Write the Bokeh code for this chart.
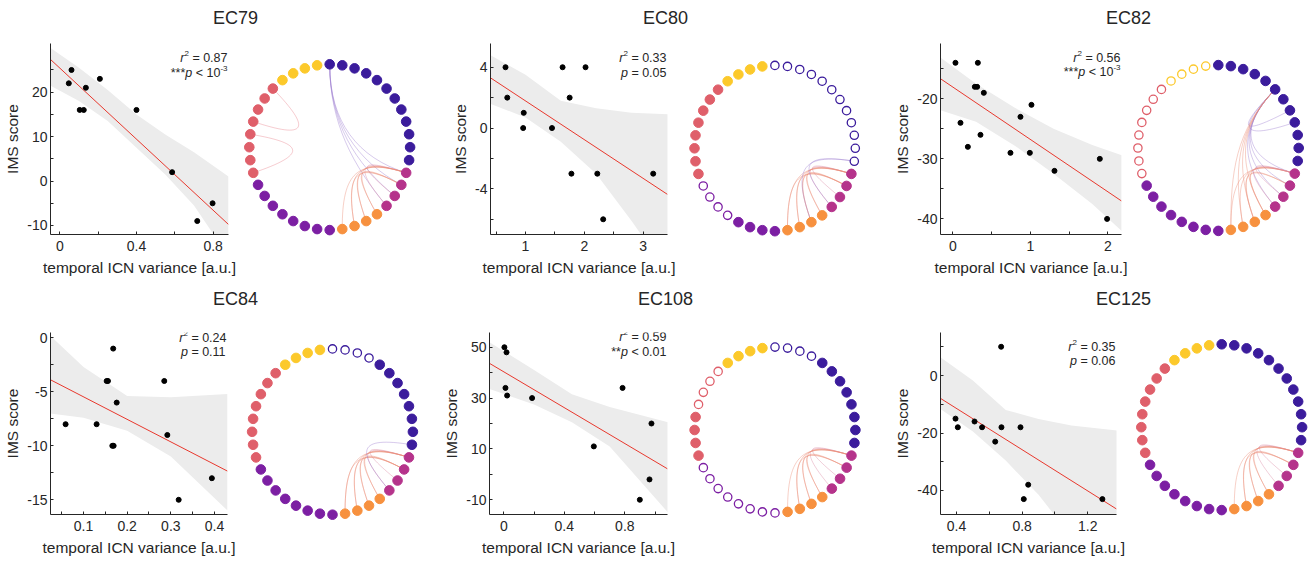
import numpy as np
from bokeh.plotting import figure
from bokeh.layouts import column, row
from bokeh.models import Range1d, FixedTicker
from bokeh.core.properties import value
from bokeh.embed import file_html
from bokeh.resources import INLINE

# ------------------------------------------------------------------ data
titles = ["EC79", "EC80", "EC82", "EC84", "EC108", "EC125"]
x_label = "temporal ICN variance [a.u.]"
y_label = "IMS score"

ec79_x = [0.047, 0.061, 0.104, 0.125, 0.136, 0.209, 0.400, 0.586, 0.717, 0.797]
ec79_y = [22, 25, 16, 16, 21, 23, 16, 2, -9, -5]
ec80_x = [0.66, 0.69, 0.97, 0.96, 1.45, 1.63, 1.75, 1.78, 2.02, 2.22, 2.32, 3.17]
ec80_y = [4, 2, 1, 0, 0, 4, 2, -3, 4, -3, -6, -3]
ec82_x = [0.034, 0.099, 0.194, 0.284, 0.314, 0.323, 0.357, 0.400, 0.744, 0.873,
          0.994, 1.015, 1.312, 1.897, 1.991]
ec82_y = [-14, -24, -28, -18, -18, -14, -26, -19, -29, -23, -29, -21, -32, -30, -40]
ec84_x = [0.059, 0.130, 0.153, 0.156, 0.168, 0.166, 0.169, 0.176, 0.285, 0.292, 0.318, 0.394]
ec84_y = [-8, -8, -4, -4, -1, -10, -10, -6, -4, -9, -15, -13]
ec108_x = [0.004, 0.018, 0.011, 0.022, 0.187, 0.595, 0.785, 0.899, 0.963, 0.976]
ec108_y = [50, 48, 34, 31, 30, 11, 34, -10, -2, 20]
ec125_x = [0.394, 0.408, 0.510, 0.556, 0.636, 0.672, 0.674, 0.790, 0.810, 0.837, 1.289]
ec125_y = [-15, -18, -16, -18, -23, 10, -18, -18, -43, -38, -43]

# confidence bands
ec79_band_x = [-0.05, 0.1, 0.25, 0.4, 0.55, 0.7, 0.88]
ec79_band_lo = [21.5, 18.0, 13.5, 7.5, 1.5, -5.5, -17.0]
ec79_band_hi = [30.0, 25.5, 20.5, 15.0, 10.5, 6.5, 1.0]
ec80_band_x = [0.4, 1.0, 1.6, 2.2, 2.8, 3.42]
ec80_band_lo = [1.6, 0.7, -0.9, -3.0, -6.1, -9.5]
ec80_band_hi = [4.8, 3.5, 1.8, 1.3, 1.0, 0.9]
ec82_band_x = [-0.16, 0.3, 0.8, 1.3, 1.8, 2.18]
ec82_band_lo = [-21.9, -23.8, -27.8, -32.5, -37.5, -42.0]
ec82_band_hi = [-13.1, -17.5, -21.5, -25.0, -27.7, -29.4]
ec84_band_x = [0.024, 0.1, 0.2, 0.3, 0.43]
ec84_band_lo = [-7.0, -7.4, -8.6, -11.0, -16.0]
ec84_band_hi = [0.2, -2.7, -5.4, -5.5, -5.2]
ec108_band_x = [-0.095, 0.2, 0.45, 0.7, 1.085]
ec108_band_lo = [33.6, 27.5, 20.5, 11.0, -15.0]
ec108_band_hi = [52.0, 41.0, 31.5, 26.5, 20.5]
ec125_band_x = [0.30, 0.5, 0.7, 0.9, 1.1, 1.38]
ec125_band_lo = [-11.6, -19.5, -29.6, -41.5, -56.0, -75.0]
ec125_band_hi = [6.4, -1.7, -12.0, -15.1, -17.4, -19.1]

# statistics: r^2 value, significance stars, p relation, p value (with exponent if any)
r2_values = ["0.87", "0.33", "0.56", "0.24", "0.59", "0.35"]
p_stars = ["***", "", "***", "", "**", ""]
p_rel = ["<", "=", "<", "=", "<", "="]
p_values = ["10", "0.05", "10", "0.11", "0.01", "0.06"]
p_exponents = ["-3", "", "-3", "", "", ""]

# ticks
x_ticks = [[0, 0.4, 0.8], [1, 2, 3], [0, 1, 2], [0.1, 0.2, 0.3, 0.4], [0, 0.4, 0.8], [0.4, 0.8, 1.2]]
x_tick_labels = [["0", "0.4", "0.8"], ["1", "2", "3"], ["0", "1", "2"],
                 ["0.1", "0.2", "0.3", "0.4"], ["0", "0.4", "0.8"], ["0.4", "0.8", "1.2"]]
x_minor = [[0.2, 0.6], [0.5, 1.5, 2.5], [0.5, 1.5], [0.05, 0.15, 0.25, 0.35], [0.2, 0.6, 1.0], [0.6, 1.0]]
y_ticks = [[-10, 0, 10, 20], [-4, 0, 4], [-40, -30, -20], [-15, -10, -5, 0], [-10, 10, 30, 50], [-40, -20, 0]]
y_tick_labels = [["-10", "0", "10", "20"], ["-4", "0", "4"], ["-40", "-30", "-20"],
                 ["-15", "-10", "-5", "0"], ["-10", "10", "30", "50"], ["-40", "-20", "0"]]
y_minor = [[-5, 5, 15, 25], [-6, -2, 2], [-35, -25, -15], [-12.5, -7.5, -2.5], [0, 20, 40], [-30, -10, 10]]

# circular graph: 40 nodes in 6 groups (clockwise from top)
group_sizes = [12, 4, 4, 8, 8, 4]
group_colors = ["#3b1c9c", "#b5338b", "#f7913f", "#7c1fa3", "#df5f6a", "#fcc92b"]
edge_colors = ["#9b7bd0", "#d9849f", "#eb8a72", "#a070c8", "#e8808a", "#f0c060"]
open_nodes = [
    [],
    list(range(0, 12)) + list(range(24, 28)),
    list(range(28, 40)),
    [0, 1, 2, 3],
    [0, 1, 2, 3] + list(range(20, 28)) + list(range(32, 36)),
    [],
]
ec79_edges = [(35, 32), (31, 28), (12, 0), (13, 0), (14, 0), (15, 0), (12, 14), (12, 15),
              (12, 16), (12, 17), (12, 18), (12, 19), (13, 16), (13, 17), (13, 18)]
ec80_edges = [(12, 14), (12, 15), (12, 16), (12, 17), (12, 18), (12, 19), (13, 16), (13, 17),
              (13, 18), (13, 19), (15, 11), (17, 11)]
ec82_edges = [(7, 5), (8, 5), (12, 5), (13, 5), (14, 5), (15, 5), (5, 16), (5, 17), (5, 18),
              (5, 19), (12, 16), (12, 17), (12, 18), (12, 19), (13, 16), (13, 17), (12, 14), (12, 15)]
ec84_edges = [(12, 14), (12, 15), (12, 16), (12, 17), (12, 18), (12, 19), (13, 16), (13, 17),
              (13, 18), (13, 19), (15, 11)]
ec108_edges = [(12, 14), (12, 15), (12, 16), (12, 17), (12, 18), (12, 19), (13, 16), (13, 17), (13, 18)]
ec125_edges = [(12, 14), (12, 15), (12, 16), (12, 17), (12, 18), (12, 19), (13, 16), (13, 17), (13, 18)]

scatter_x = [ec79_x, ec80_x, ec82_x, ec84_x, ec108_x, ec125_x]
scatter_y = [ec79_y, ec80_y, ec82_y, ec84_y, ec108_y, ec125_y]
band_x = [ec79_band_x, ec80_band_x, ec82_band_x, ec84_band_x, ec108_band_x, ec125_band_x]
band_lo = [ec79_band_lo, ec80_band_lo, ec82_band_lo, ec84_band_lo, ec108_band_lo, ec125_band_lo]
band_hi = [ec79_band_hi, ec80_band_hi, ec82_band_hi, ec84_band_hi, ec108_band_hi, ec125_band_hi]
edges = [ec79_edges, ec80_edges, ec82_edges, ec84_edges, ec108_edges, ec125_edges]

# ------------------------------------------------------------------ layout / style
FONT = "Liberation Sans"
TXT = "#262626"
W_TOTAL = 1309
ROW_TOP = [33, 322]
ROW_H = [249, 241]
FRAME_H = [191, 182]
TITLE_H = [33, 40]
TITLE_CY = [17, 16]
title_cx = [235, 665, 1128, 235, 665, 1123]

scatter_frame_w = [178, 177, 181, 177, 178, 176]
scatter_right = [14, 15, 9, 15, 15, 12]
circle_w = [198, 208, 179, 197, 208, 181]
x_ranges = [(-0.0485, 0.880), (0.405, 3.413), (-0.159, 2.177),
            (0.0244, 0.4298), (-0.0945, 1.082), (0.3026, 1.375)]
y_ranges = [(-12.03, 30.96), (-7.0, 5.56), (-42.6, -10.78),
            (-16.36, 0.49), (-15.8, 55.8), (-48.35, 14.96)]
stat_dy = [(14, 29), (14, 29), (14, 28), (5, 19), (4, 19), (14, 28)]
circle_c = [(329.2, 146.7), (774.4, 147.8), (1217.8, 147.5),
            (332.0, 431.3), (774.5, 429.5), (1221.2, 426.7)]
RX, RY = 80.4, 82.9
HUB = np.array([0.15, -0.2])
HUB_LIFT = np.array([0.0, 0.1])
STAT_FS = 12.5
SUP_FS = 8.0
# Arial / Liberation Sans advance widths (em)
ADV = {"0": .556, "1": .556, "2": .556, "3": .556, "4": .556, "5": .556, "6": .556,
       "7": .556, "8": .556, "9": .556, " ": .278, ".": .278, "=": .584, "<": .584,
       "*": .389, "-": .333, "r": .333, "p": .556}


def tw(s, fs):
    return sum(ADV.get(ch, 0.55) for ch in s) * fs


def node_colors():
    cols = []
    for c, n in zip(group_colors, group_sizes):
        cols += [c] * n
    return cols


def node_group():
    g = []
    for k, n in enumerate(group_sizes):
        g += [k] * n
    return g


def make_title_strip(r):
    h = TITLE_H[r]
    p = figure(width=W_TOTAL, height=h, x_range=Range1d(0, W_TOTAL), y_range=Range1d(0, h),
               output_backend="svg", toolbar_location=None, min_border=0,
               x_axis_type=None, y_axis_type=None, outline_line_color=None)
    p.grid.visible = False
    p.text(x=title_cx[3 * r:3 * r + 3], y=[h - TITLE_CY[r]] * 3, text=titles[3 * r:3 * r + 3],
           text_font=value(FONT), text_font_size="18px", text_color=TXT,
           text_align="center", text_baseline="middle")
    return p


def style_axis(ax):
    ax.axis_line_color = TXT
    ax.axis_line_width = 1
    ax.major_tick_line_color = TXT
    ax.minor_tick_line_color = TXT
    ax.major_tick_in = 3
    ax.major_tick_out = 0
    ax.minor_tick_in = 3
    ax.minor_tick_out = 0
    ax.major_label_text_font = FONT
    ax.major_label_text_font_size = "14px"
    ax.major_label_text_color = TXT
    ax.axis_label_text_font = FONT
    ax.axis_label_text_font_size = "15.5px"
    ax.axis_label_text_font_style = "normal"
    ax.axis_label_text_color = TXT


def draw_rich(p, x, y, segs):
    """segs: list of (text, font_size, style, raise_px); right-aligned at x."""
    total = sum(tw(s, fs) for s, fs, st, up in segs)
    off = -total
    for s, fs, st, up in segs:
        core = s.lstrip(" ")
        lead = tw(s[:len(s) - len(core)], fs)
        if core:
            p.text(x=[x], y=[y], text=[core], x_offset=off + lead, y_offset=-up,
                   text_font=value(FONT), text_font_size=f"{fs}px", text_font_style=st,
                   text_color=TXT, text_align="left", text_baseline="middle")
        off += tw(s, fs)


def make_scatter(i):
    r = i // 3
    x0, x1 = x_ranges[i]
    y0, y1 = y_ranges[i]
    fw = scatter_frame_w[i]
    w = 50 + fw + scatter_right[i]
    fh = FRAME_H[r]
    p = figure(width=w, height=ROW_H[r], x_range=Range1d(x0, x1), y_range=Range1d(y0, y1),
               output_backend="svg", toolbar_location=None,
               min_border_left=50, min_border_right=scatter_right[i], min_border_top=10,
               min_border_bottom=ROW_H[r] - 10 - fh)
    p.outline_line_color = None
    p.grid.visible = False
    p.varea(x=band_x[i], y1=band_lo[i], y2=band_hi[i], fill_color="#ececec")
    k, b = np.polyfit(scatter_x[i], scatter_y[i], 1)
    p.line(x=[x0, x1], y=[k * x0 + b, k * x1 + b], line_color="#e8382d", line_width=1)
    p.scatter(x=scatter_x[i], y=scatter_y[i], size=5, color="black")

    tx = x1 - 1.0 * (x1 - x0) / fw
    ty1 = y1 - stat_dy[i][0] * (y1 - y0) / fh
    ty2 = y1 - stat_dy[i][1] * (y1 - y0) / fh
    draw_rich(p, tx, ty1, [("r", STAT_FS, "italic", 0), ("2", SUP_FS, "normal", 4),
                           (" = " + r2_values[i], STAT_FS, "normal", 0)])
    draw_rich(p, tx, ty2, [(p_stars[i], STAT_FS, "normal", 0), ("p", STAT_FS, "italic", 0),
                           (" " + p_rel[i] + " " + p_values[i], STAT_FS, "normal", 0),
                           (p_exponents[i], SUP_FS, "normal", 4)])

    p.xaxis.ticker = FixedTicker(ticks=x_ticks[i], minor_ticks=x_minor[i])
    p.yaxis.ticker = FixedTicker(ticks=y_ticks[i], minor_ticks=y_minor[i])
    p.xaxis.major_label_overrides = {float(t): s for t, s in zip(x_ticks[i], x_tick_labels[i])}
    p.yaxis.major_label_overrides = {float(t): s for t, s in zip(y_ticks[i], y_tick_labels[i])}
    style_axis(p.xaxis[0])
    style_axis(p.yaxis[0])
    p.xaxis.axis_label = x_label
    p.yaxis.axis_label = y_label
    p.xaxis.major_label_standoff = 6
    p.xaxis.axis_label_standoff = 5
    p.yaxis.major_label_standoff = 3
    p.yaxis.axis_label_standoff = 3
    return p, w


def make_circle(i, left):
    r = i // 3
    w = circle_w[i]
    h = ROW_H[r]
    top = ROW_TOP[r]
    cx, cy = circle_c[i]
    xr = ((left - cx) / RX, (left + w - cx) / RX)
    yr = ((cy - (top + h)) / RY, (cy - top) / RY)
    p = figure(width=w, height=h, x_range=Range1d(*xr), y_range=Range1d(*yr),
               output_backend="svg", toolbar_location=None, min_border=0,
               x_axis_type=None, y_axis_type=None, outline_line_color=None)
    p.grid.visible = False
    cols = node_colors()
    grp = node_group()
    n = len(cols)
    ang = np.deg2rad(90 - 360.0 / n * np.arange(n))
    nx, ny = np.cos(ang), np.sin(ang)

    def ctrl(k):
        pt = np.array([nx[k], ny[k]])
        if grp[k] in (1, 2):          # magenta / orange nodes are bundled towards a hub
            return 0.25 * pt + 0.75 * HUB + HUB_LIFT
        return 0.3 * pt

    e = edges[i]
    c0 = [ctrl(a) for a, b in e]
    c1 = [ctrl(b) for a, b in e]
    p.bezier(x0=[nx[a] for a, b in e], y0=[ny[a] for a, b in e],
             x1=[nx[b] for a, b in e], y1=[ny[b] for a, b in e],
             cx0=[c[0] for c in c0], cy0=[c[1] for c in c0],
             cx1=[c[0] for c in c1], cy1=[c[1] for c in c1],
             line_color=[edge_colors[grp[b]] for a, b in e], line_alpha=0.4, line_width=1)
    op = set(open_nodes[i])
    fi = [k for k in range(n) if k not in op]
    oi = [k for k in range(n) if k in op]
    if fi:
        p.scatter(x=nx[fi], y=ny[fi], size=9.6, fill_color=[cols[k] for k in fi],
                  line_color=[cols[k] for k in fi], line_width=1)
    if oi:
        p.scatter(x=nx[oi], y=ny[oi], size=8.3, fill_color="white",
                  line_color=[cols[k] for k in oi], line_width=1.3)
    return p


rows = []
for r in range(2):
    kids = []
    left = 0
    for j in range(3):
        i = 3 * r + j
        sp, sw = make_scatter(i)
        kids.append(column(sp, spacing=0))
        left += sw
        kids.append(column(make_circle(i, left), spacing=0))
        left += circle_w[i]
    rows.append(make_title_strip(r))
    rows.append(row(*kids, spacing=0))

layout = column(*rows, spacing=0)
open("out.html", "w").write(file_html(layout, INLINE))
